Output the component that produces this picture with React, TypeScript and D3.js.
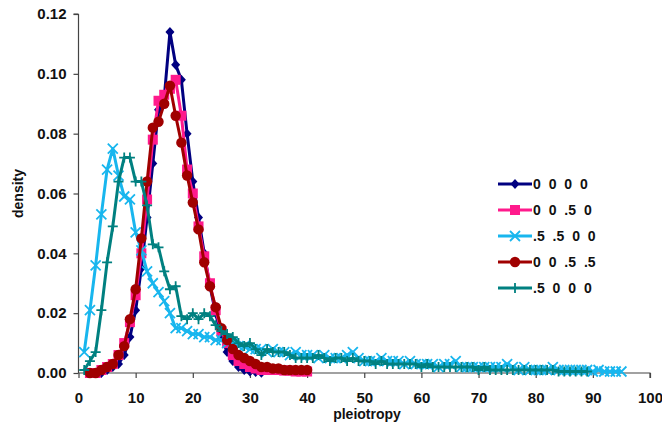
import React, { useEffect, useRef } from 'react';
import * as d3 from 'd3';

// x values are pleiotropy counts (1 unit steps), y values are densities
const blueX = d3.range(3, 33);
const blueY = [0.000, 0.000, 0.001, 0.002, 0.003, 0.006, 0.012, 0.021, 0.035, 0.052, 0.070, 0.088, 0.092, 0.114, 0.103, 0.098, 0.080, 0.064, 0.052, 0.040, 0.029, 0.020, 0.012, 0.007, 0.004, 0.002, 0.001, 0.0005, 0.0003, 0.0001];

const pinkX = d3.range(2, 41);
const pinkY = [0.000, 0.000, 0.001, 0.002, 0.003, 0.006, 0.010, 0.017, 0.026, 0.040, 0.058, 0.078, 0.091, 0.093, 0.095, 0.098, 0.086, 0.068, 0.060, 0.049, 0.039, 0.030, 0.021, 0.014, 0.010, 0.006, 0.004, 0.003, 0.002, 0.0015, 0.001, 0.001, 0.001, 0.001, 0.0008, 0.0008, 0.0005, 0.0005, 0.0005];

const cyanX = d3.range(1, 96);
const cyanY = [0.007, 0.021, 0.036, 0.053, 0.068, 0.075, 0.066, 0.059, 0.058, 0.047, 0.041, 0.034, 0.030, 0.027, 0.024, 0.020, 0.015, 0.015, 0.014, 0.013,
  0.013, 0.012, 0.012, 0.011, 0.011, 0.010, 0.010, 0.009, 0.009, 0.008, 0.008, 0.008, 0.007, 0.008, 0.007, 0.007, 0.006, 0.007, 0.006, 0.006,
  0.006, 0.005, 0.006, 0.005, 0.005, 0.005, 0.006, 0.007, 0.005, 0.004, 0.004, 0.004, 0.005, 0.004, 0.004, 0.004, 0.003, 0.004, 0.003, 0.003,
  0.003, 0.003, 0.002, 0.003, 0.003, 0.004, 0.002, 0.002, 0.002, 0.002, 0.002, 0.002, 0.002, 0.002, 0.003, 0.002, 0.001, 0.002, 0.001, 0.001,
  0.001, 0.001, 0.002, 0.001, 0.001, 0.001, 0.001, 0.001, 0.001, 0.0005, 0.001, 0.0005, 0.0005, 0.0005, 0.0005];

const redX = d3.range(2, 41);
const redY = [0.000, 0.000, 0.001, 0.002, 0.003, 0.006, 0.009, 0.018, 0.028, 0.045, 0.064, 0.082, 0.084, 0.090, 0.096, 0.086, 0.077, 0.066, 0.057, 0.048, 0.037, 0.029, 0.022, 0.015, 0.011, 0.008, 0.006, 0.005, 0.004, 0.003, 0.002, 0.002, 0.0015, 0.0015, 0.001, 0.001, 0.001, 0.001, 0.001];

const tealX = d3.range(1, 90);
const tealY = [0.001, 0.004, 0.007, 0.021, 0.037, 0.049, 0.064, 0.072, 0.072, 0.064, 0.064, 0.056, 0.043, 0.042, 0.034, 0.028, 0.029, 0.019, 0.018, 0.020,
  0.018, 0.020, 0.019, 0.016, 0.014, 0.013, 0.012, 0.010, 0.009, 0.010, 0.008, 0.006, 0.008, 0.007, 0.007, 0.007, 0.006, 0.005, 0.005, 0.005,
  0.005, 0.006, 0.005, 0.004, 0.005, 0.005, 0.004, 0.005, 0.004, 0.004, 0.004, 0.003, 0.004, 0.003, 0.003, 0.003, 0.003, 0.003, 0.003, 0.002,
  0.003, 0.002, 0.002, 0.002, 0.002, 0.002, 0.002, 0.002, 0.002, 0.001, 0.002, 0.001, 0.001, 0.001, 0.001, 0.001, 0.001, 0.001, 0.001, 0.001,
  0.001, 0.001, 0.001, 0.0005, 0.0005, 0.0005, 0.0005, 0.0005, 0.0005];

const seriesNames = ['0 0 0 0', '0 0 .5 0', '.5 .5 0 0', '0 0 .5 .5', '.5 0 0 0'];
const seriesColors = ['#000080', '#ff1a8c', '#18b6ee', '#a00000', '#008080'];
const seriesMarkers = ['diamond', 'square', 'x', 'circle', 'plus'];

const xTicks = d3.range(0, 101, 10);
const yTicks = [0, 0.02, 0.04, 0.06, 0.08, 0.10, 0.12];

const WIDTH = 662;
const HEIGHT = 427;

export default function App() {
  const svgRef = useRef<SVGSVGElement>(null);

  useEffect(() => {
    const svg = d3.select(svgRef.current);
    svg.selectAll('*').remove();

    const margin = { top: 14, right: 12, bottom: 54, left: 78.5 };
    const x = d3.scaleLinear().domain([0, 100]).range([margin.left, WIDTH - margin.right]);
    const y = d3.scaleLinear().domain([0, 0.12]).range([HEIGHT - margin.bottom, margin.top]);
    const font = 'Arial, "Liberation Sans", sans-serif';

    // Axes
    const xAxis = svg.append('g')
      .attr('transform', `translate(0,${y(0)})`)
      .call(d3.axisBottom(x).tickValues(xTicks).tickSize(5).tickPadding(14).tickFormat(d3.format('d')));
    const yAxis = svg.append('g')
      .attr('transform', `translate(${x(0)},0)`)
      .call(d3.axisLeft(y).tickValues(yTicks).tickSize(5).tickPadding(7).tickFormat(d3.format('.2f')));

    [xAxis, yAxis].forEach(ax => {
      ax.select('.domain').attr('stroke', '#444').attr('stroke-width', 1.2);
      ax.selectAll('.tick line').attr('stroke', '#444').attr('stroke-width', 1.2);
      ax.selectAll('.tick text')
        .attr('font-family', font)
        .attr('font-size', 15)
        .attr('font-weight', 'bold')
        .attr('fill', '#111');
    });
    xAxis.select('.domain').attr('d', `M${x(0)},0H${x(100)}V5`);
    yAxis.select('.domain').attr('d', `M0,${y(0.12)}H-5M0,${y(0.12)}V${y(0)}`);

    svg.append('text')
      .attr('x', 367)
      .attr('y', 419)
      .attr('text-anchor', 'middle')
      .attr('font-family', font)
      .attr('font-size', 14)
      .attr('font-weight', 'bold')
      .attr('fill', '#111')
      .text('pleiotropy');

    svg.append('text')
      .attr('transform', `translate(23,${y(0.06)}) rotate(-90)`)
      .attr('text-anchor', 'middle')
      .attr('font-family', font)
      .attr('font-size', 14)
      .attr('font-weight', 'bold')
      .attr('fill', '#111')
      .text('density');

    const drawMarker = (g: any, type: string, cx: number, cy: number, color: string) => {
      if (type === 'diamond') {
        g.append('path').attr('d', `M${cx},${cy - 5}L${cx + 4.5},${cy}L${cx},${cy + 5}L${cx - 4.5},${cy}Z`).attr('fill', color);
      } else if (type === 'square') {
        g.append('rect').attr('x', cx - 5).attr('y', cy - 5).attr('width', 10).attr('height', 10).attr('fill', color);
      } else if (type === 'circle') {
        g.append('circle').attr('cx', cx).attr('cy', cy).attr('r', 5.2).attr('fill', color);
      } else if (type === 'x') {
        g.append('path').attr('d', `M${cx - 5},${cy - 5}L${cx + 5},${cy + 5}M${cx - 5},${cy + 5}L${cx + 5},${cy - 5}`)
          .attr('stroke', color).attr('stroke-width', 1.8).attr('fill', 'none');
      } else if (type === 'plus') {
        g.append('path').attr('d', `M${cx - 5},${cy}L${cx + 5},${cy}M${cx},${cy - 5}L${cx},${cy + 5}`)
          .attr('stroke', color).attr('stroke-width', 1.8).attr('fill', 'none');
      }
    };

    const allSeries = [
      { xs: blueX, ys: blueY },
      { xs: pinkX, ys: pinkY },
      { xs: cyanX, ys: cyanY },
      { xs: redX, ys: redY },
      { xs: tealX, ys: tealY },
    ];

    const line = d3.line<[number, number]>().x(d => x(d[0])).y(d => y(d[1]));

    allSeries.forEach((s, i) => {
      const pts: [number, number][] = s.xs.map((v, j) => [v, s.ys[j]]);
      const g = svg.append('g');
      g.append('path')
        .attr('d', line(pts))
        .attr('fill', 'none')
        .attr('stroke', seriesColors[i])
        .attr('stroke-width', 3)
        .attr('stroke-linejoin', 'round');
      pts.forEach(p => drawMarker(g, seriesMarkers[i], x(p[0]), y(p[1]), seriesColors[i]));
    });

    // Legend
    const legend = svg.append('g').attr('transform', 'translate(498,184)');
    seriesNames.forEach((name, i) => {
      const item = legend.append('g').attr('transform', `translate(0,${i * 26})`);
      item.append('line')
        .attr('x1', 0).attr('x2', 34).attr('y1', 0).attr('y2', 0)
        .attr('stroke', seriesColors[i]).attr('stroke-width', 3);
      drawMarker(item, seriesMarkers[i], 17, 0, seriesColors[i]);
      item.append('text')
        .attr('x', 35)
        .attr('y', 5)
        .attr('font-family', font)
        .attr('font-size', 14)
        .attr('font-weight', 'bold')
        .attr('word-spacing', 4)
        .attr('fill', '#111')
        .text(name);
    });
  }, []);

  return (
    <div style={{ position: 'absolute', left: 0, top: 0 }}>
      <svg ref={svgRef} width={WIDTH} height={HEIGHT} style={{ display: 'block', background: '#fff' }}></svg>
    </div>
  );
}
